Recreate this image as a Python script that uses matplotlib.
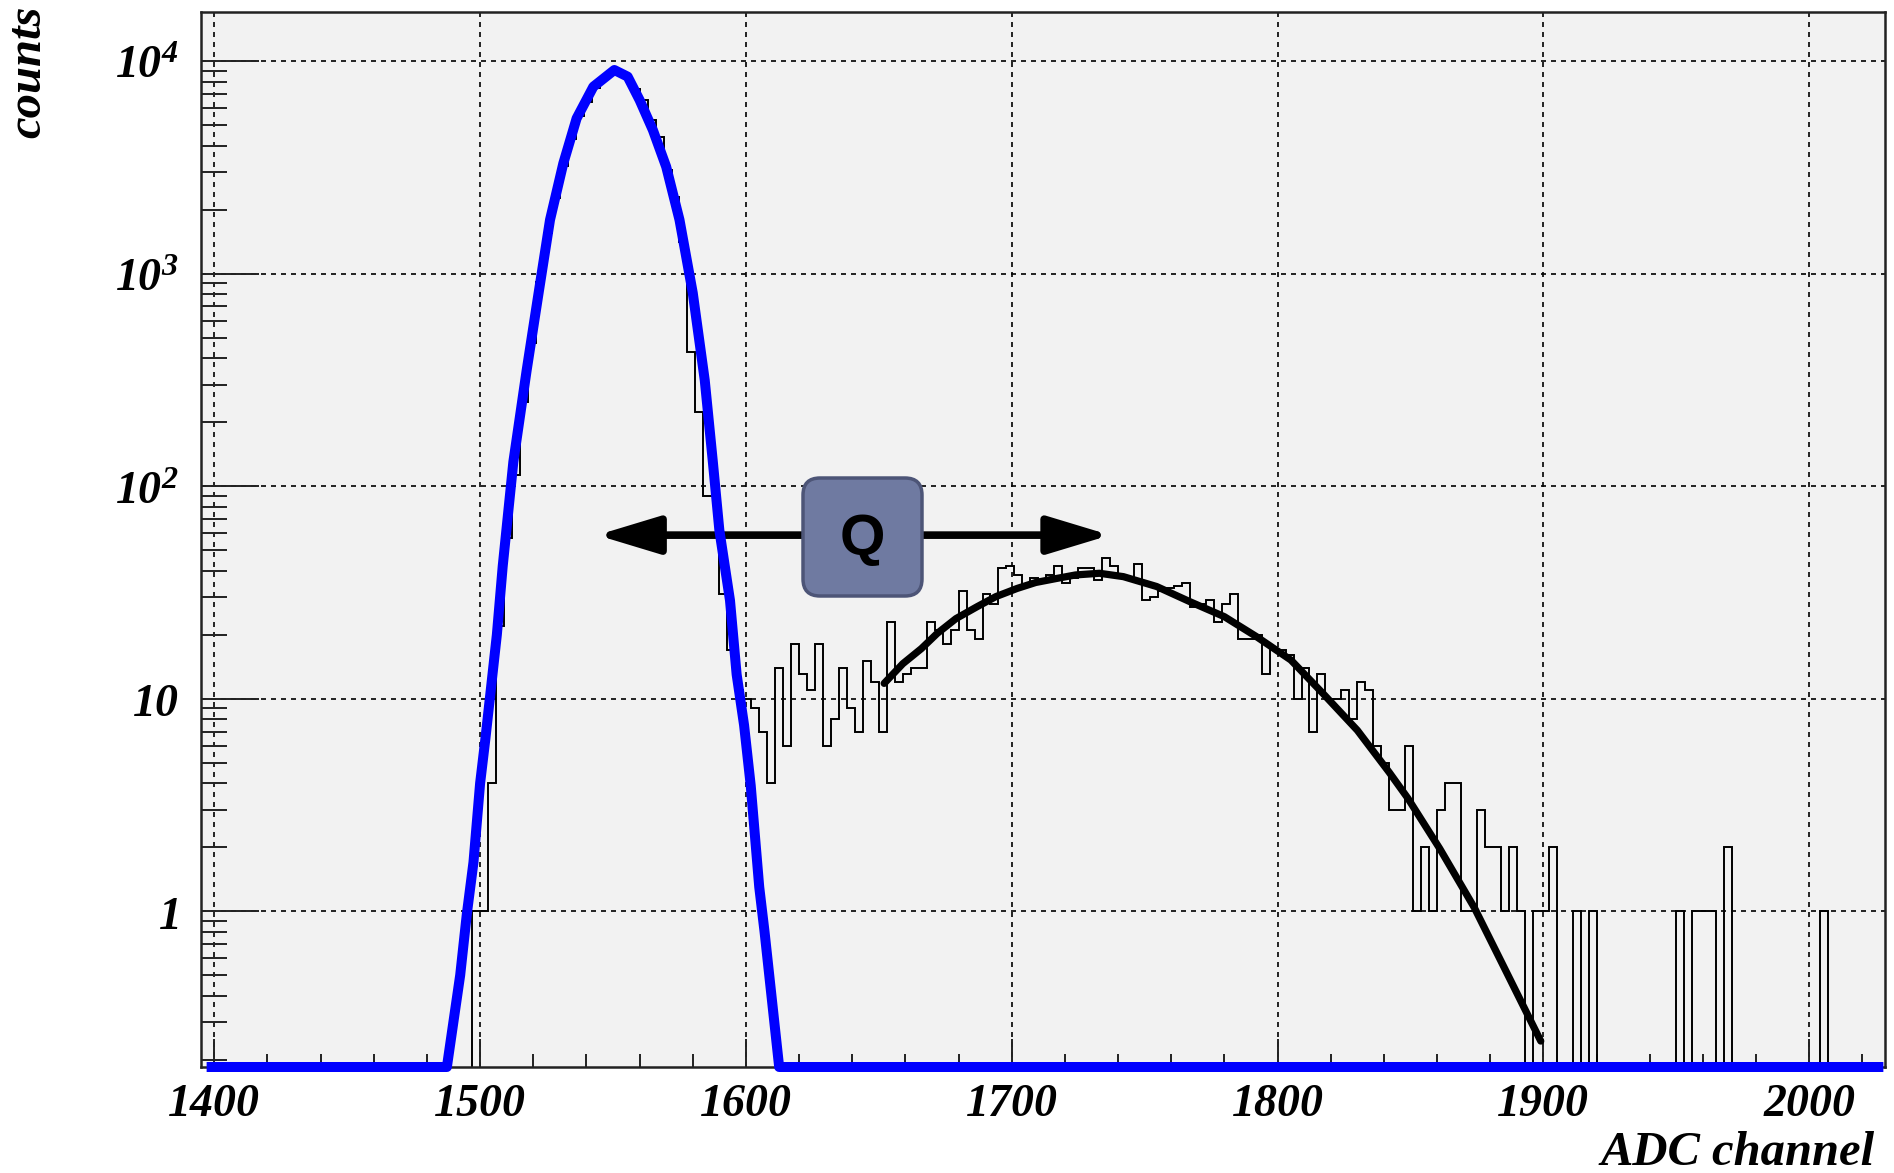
import numpy as np
import matplotlib
matplotlib.use('Agg')
import matplotlib.pyplot as plt
from matplotlib.patches import FancyBboxPatch, FancyArrowPatch, ArrowStyle
from matplotlib.transforms import IdentityTransform
from matplotlib.ticker import LogLocator, MultipleLocator, NullFormatter

W, H = 1894, 1173

plt.rcParams['mathtext.fontset'] = 'custom'
plt.rcParams['mathtext.rm'] = 'Liberation Serif:italic:bold'
plt.rcParams['mathtext.it'] = 'Liberation Serif:italic:bold'
plt.rcParams['mathtext.bf'] = 'Liberation Serif:italic:bold'

# histogram: 3 channel bins from 1395 to 2028
bin_start = 1395
bin_width = 3
n_bins = 211
first_bin = 1497          # first non-empty bin
counts = ([1, 1, 4, 22, 57, 113, 250, 470, 915, 1545, 2260, 3210, 4300, 5500,
           6430, 7430, 8300, 8900, 8900, 8300, 7400, 6550, 5280, 4400, 3070,
           2300, 1410, 429, 224, 90, 90, 31, 17, 11, 10, 9, 7, 4, 14, 6, 18,
           13, 11, 18, 6, 8, 14, 9, 7, 15, 12, 7, 23, 12, 13, 14, 14, 23, 21,
           18, 21, 32, 21, 19, 31, 28, 41, 42, 38, 34, 37, 36, 38, 42, 35, 37,
           41, 41, 36, 46, 42, 37, 37, 43, 29, 30, 32, 33, 34, 35, 27, 28, 29,
           23, 28, 31, 19, 19, 20, 13, 17, 17, 16, 10, 14, 7, 13, 10, 10, 11,
           8, 12, 11, 6, 5, 3, 3, 6, 1, 2, 1, 3, 4, 4, 1, 1, 3, 2, 2, 1, 2, 1,
           0, 1, 1, 2, 0, 0, 1, 0, 1]
          + [0] * 10 + [1, 0, 1, 1, 1, 0, 2] + [0] * 11 + [1])

# pedestal fit (blue)
ped_x = [1399, 1487.5, 1492.5, 1495, 1497.5, 1500, 1502, 1506.3, 1508.5,
         1512.5, 1517.5, 1522, 1526.3, 1531.3, 1536.3, 1542.6, 1550.5, 1555.5,
         1560, 1565, 1570, 1575, 1580, 1584.5, 1587.5, 1590, 1594,
         1596.5, 1599.3, 1601.8, 1605, 1607, 1612.5, 2026]
ped_y = [0.01, 0.18, 0.5, 0.97, 1.7, 4.0, 6.5, 20, 42, 130, 350, 810, 1790,
         3300, 5370, 7570, 9070, 8440, 6550, 4730, 3180, 1790, 810, 315, 132,
         62, 29, 13, 7.5, 3.9, 1.3, 0.8, 0.01, 0.01]

# signal fit (black)
sig_x = [1652, 1659, 1666, 1672, 1679, 1687, 1694, 1702, 1709, 1717, 1724,
         1733, 1742, 1754.5, 1767, 1780, 1792, 1805, 1817, 1830, 1842, 1849,
         1861, 1874, 1886, 1899]
sig_y = [11.8, 14.6, 17.2, 20.3, 23.8, 27.1, 30.2, 33.0, 35.2, 36.8, 38.2,
         38.9, 37.5, 33.7, 28.6, 24.3, 19.6, 15.2, 10.6, 7.1, 4.5, 3.4, 1.97,
         1.04, 0.52, 0.245]

x_ticks = [1400, 1500, 1600, 1700, 1800, 1900, 2000]
y_ticks = [1, 10, 100, 1000, 10000]
y_labels = ['$1$', '$10$', '$10^{2}$', '$10^{3}$', '$10^{4}$']

xmin, xmax = 1395, 2028.5
ymin, ymax = 0.185, 17000

fig = plt.figure(figsize=(W / 100, H / 100), dpi=100)
ax = fig.add_axes([201 / W, 1 - 1067 / H, (1885 - 201) / W, (1067 - 12) / H])
ax.set_facecolor('#f2f2f2')
ax.set_yscale('log')
ax.set_xlim(xmin, xmax)
ax.set_ylim(ymin, ymax)

# histogram outline, empty bins fall off the bottom
edges = bin_start + bin_width * np.arange(n_bins + 1)
vals = np.zeros(n_bins)
i0 = (first_bin - bin_start) // bin_width
vals[i0:i0 + len(counts)] = counts
vals = np.where(vals > 0, vals, 1e-3)
ax.stairs(vals, edges, baseline=1e-3, color='black', lw=1.4, zorder=2)

ax.plot(sig_x, sig_y, color='black', lw=5.2, solid_capstyle='round', zorder=3)

# Q arrows
y_arr = 58.8
for tip in (1544, 1737):
    ar = FancyArrowPatch((1643, y_arr), (tip, y_arr),
                         arrowstyle=ArrowStyle('-|>', head_length=3.8, head_width=1.15),
                         mutation_scale=10, lw=5.5, color='black',
                         shrinkA=0, shrinkB=0, zorder=4)
    ax.add_patch(ar)

ax.plot(ped_x, np.clip(ped_y, ymin, None), color='#0000ff', lw=7.2,
        clip_on=False, solid_joinstyle='round', zorder=5)

ax.grid(True, which='major', color='black', linestyle=(0, (3, 3)), lw=1.2)
ax.set_axisbelow(True)

ax.set_xticks(x_ticks)
ax.xaxis.set_minor_locator(MultipleLocator(20))
ax.set_yticks(y_ticks, labels=y_labels)
ax.yaxis.set_minor_locator(LogLocator(base=10, subs=np.arange(2, 10), numticks=20))
ax.yaxis.set_minor_formatter(NullFormatter())

ax.tick_params(axis='both', which='both', direction='in', width=1.4, color='#222222',
               top=False, right=False)
ax.tick_params(axis='y', which='major', length=42, pad=16, labelsize=33)
ax.tick_params(axis='y', which='minor', length=19)
ax.tick_params(axis='x', which='major', length=20, pad=12, labelsize=33)
ax.tick_params(axis='x', which='minor', length=9.5)
for lab in ax.get_xticklabels():
    lab.set_family('Liberation Serif')
    lab.set_style('italic')
    lab.set_weight('bold')

for sp in ax.spines.values():
    sp.set_linewidth(1.8)
    sp.set_color('#222222')

fig.text(1875 / W, 8 / H, 'ADC channel', ha='right', va='baseline',
         family='Liberation Serif', style='italic', weight='bold', fontsize=35)
fig.text(28 / W, 1 - 6 / H, 'counts', ha='center', va='top', rotation=90,
         family='Liberation Serif', style='italic', weight='bold', fontsize=35)

box = FancyBboxPatch((803, H - 596), 119, 118,
                     boxstyle='round,pad=0,rounding_size=17',
                     transform=IdentityTransform(), fc='#6f7aa1', ec='#4d5577',
                     lw=2.5, zorder=6)
fig.add_artist(box)
fig.text(862 / W, 1 - 540 / H, 'Q', ha='center', va='center', fontsize=42,
         family='Liberation Sans', weight='bold', color='black', zorder=7)

fig.savefig('out.png', dpi=100, facecolor='white')
